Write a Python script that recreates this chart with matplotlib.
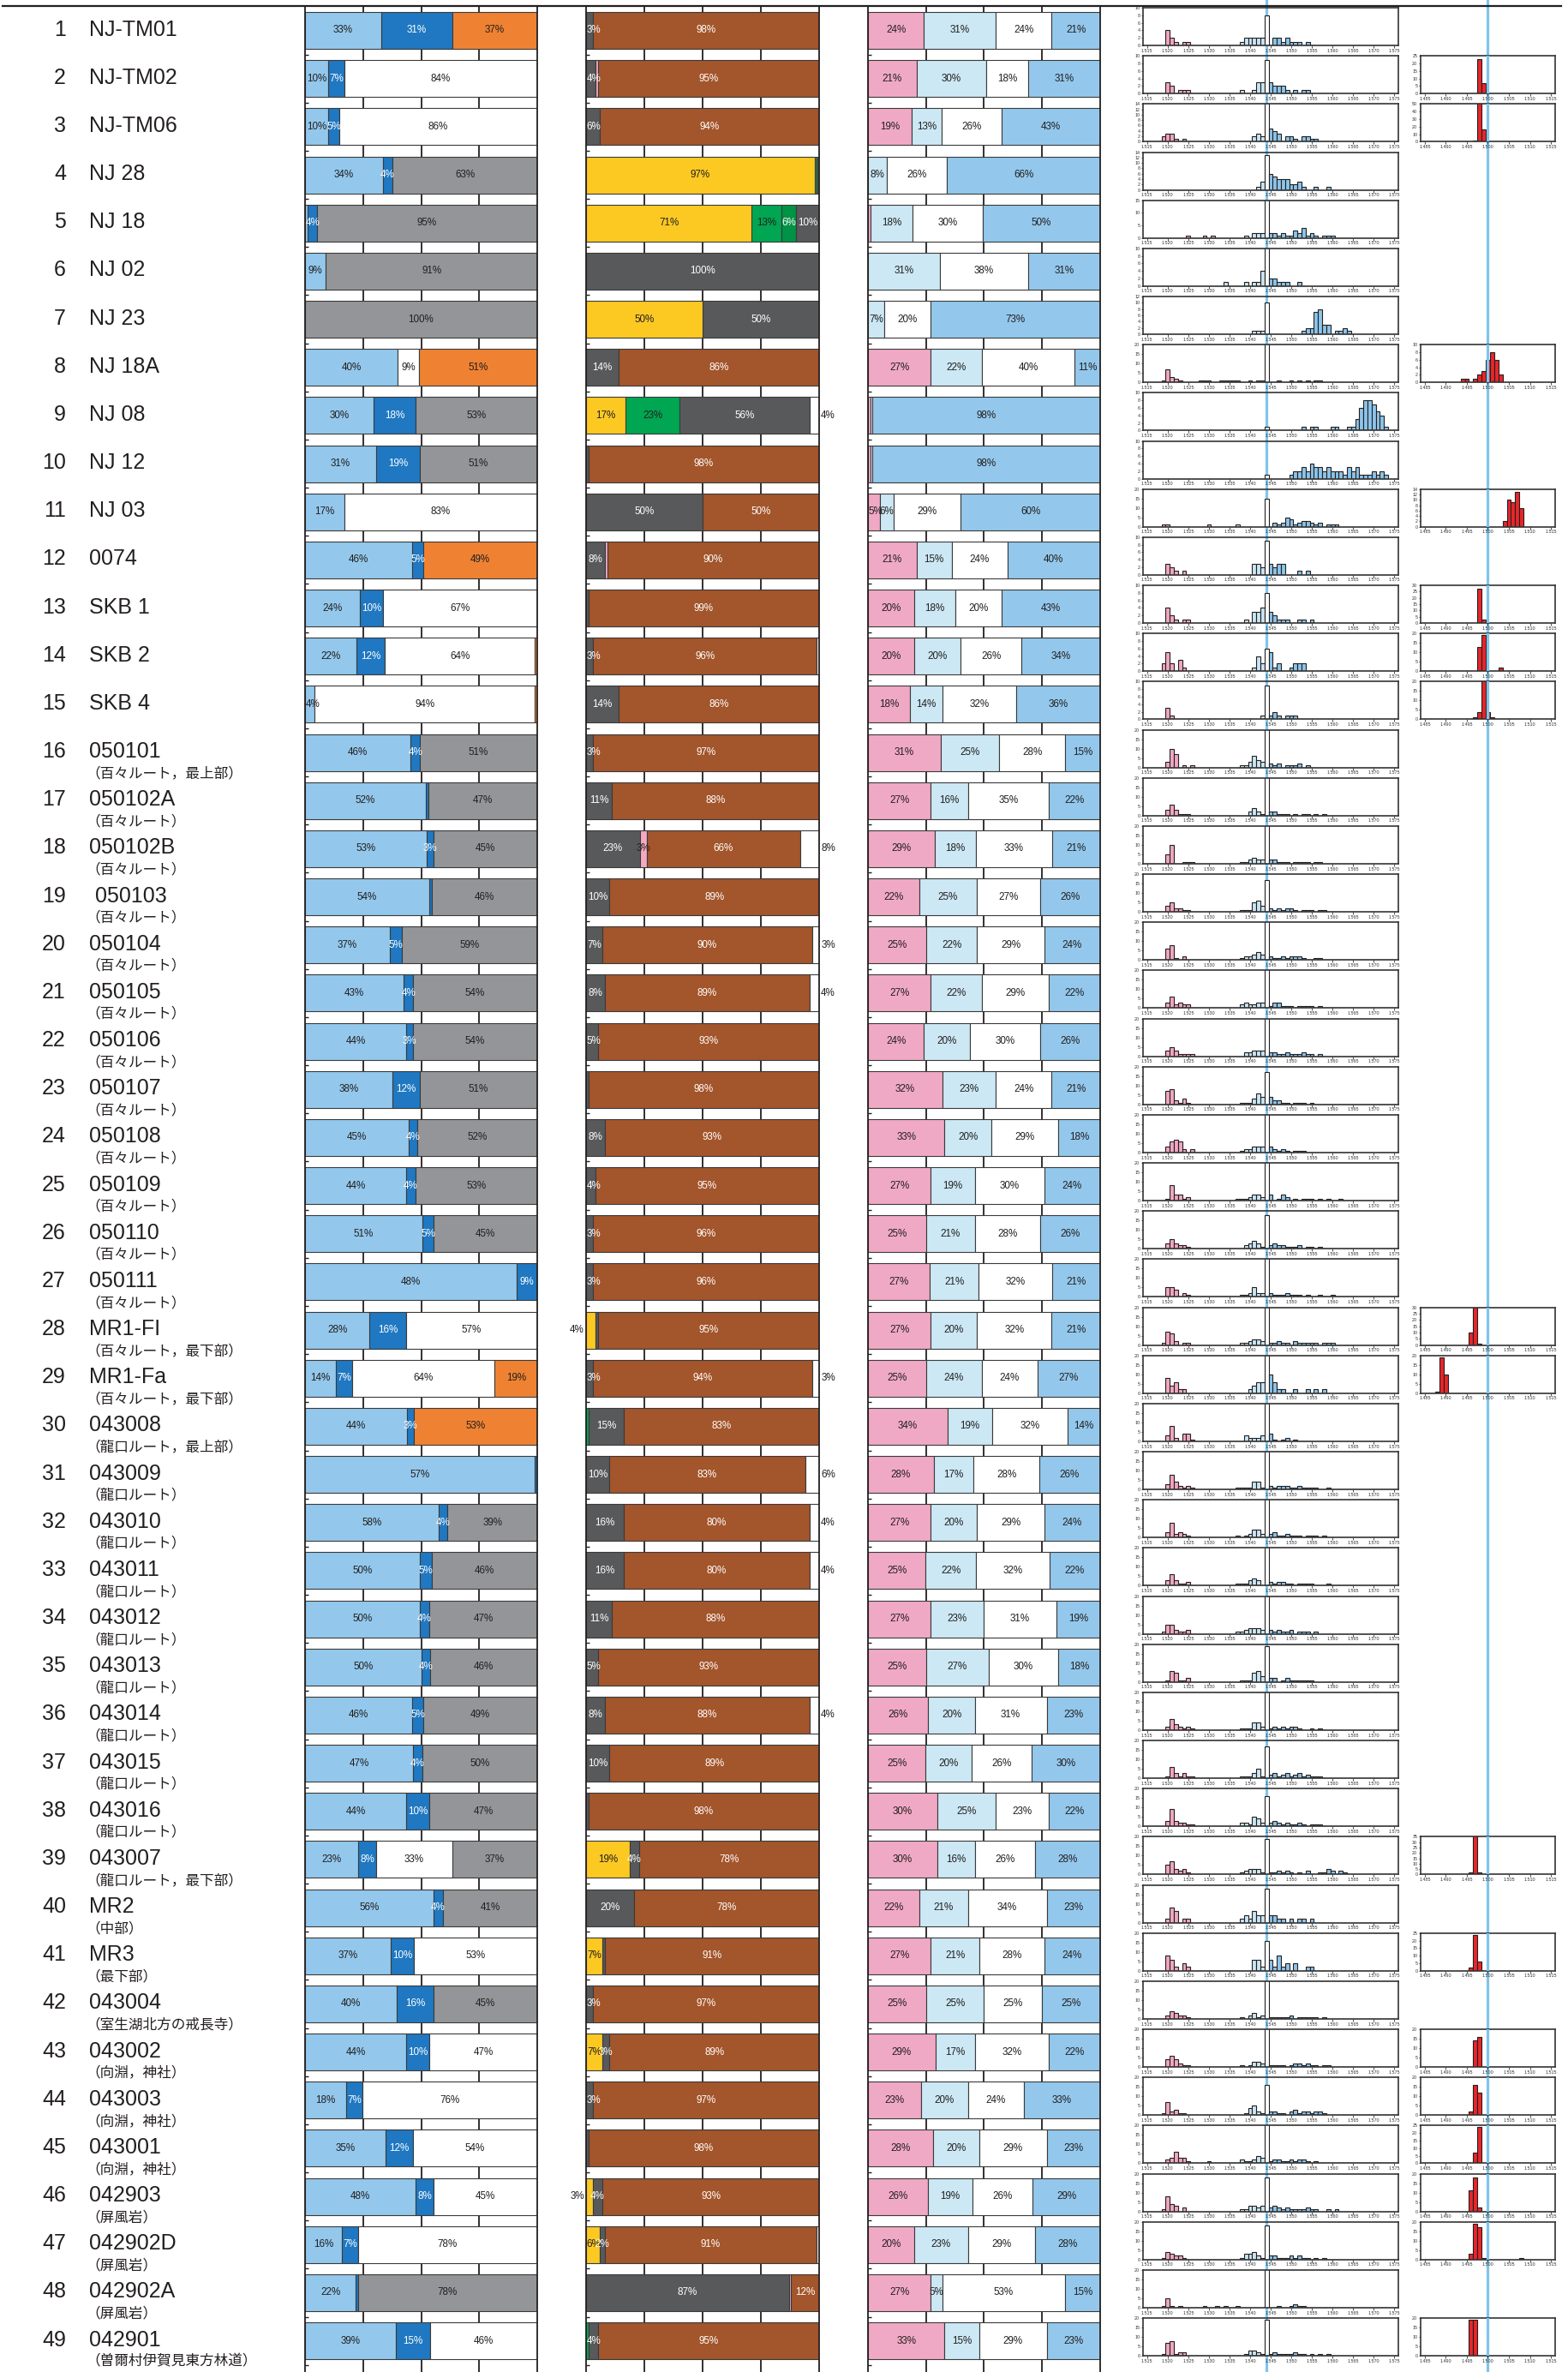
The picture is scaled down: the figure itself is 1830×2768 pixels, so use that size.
import matplotlib
matplotlib.use("Agg")
import matplotlib.pyplot as plt
from matplotlib.lines import Line2D
import numpy as np

plt.rcParams['font.family'] = ['Liberation Sans', 'Noto Sans CJK JP', 'DejaVu Sans']

# ---------------------------------------------------------------- data
SAMPLE_NO = list(range(1, 50))
SAMPLE_NAME = ['NJ-TM01', 'NJ-TM02', 'NJ-TM06', 'NJ 28', 'NJ 18', 'NJ 02', 'NJ 23', 'NJ 18A',
               'NJ 08', 'NJ 12', 'NJ 03', '0074', 'SKB 1', 'SKB 2', 'SKB 4',
               '050101', '050102A', '050102B', ' 050103', '050104', '050105', '050106',
               '050107', '050108', '050109', '050110', '050111', 'MR1-FI', 'MR1-Fa',
               '043008', '043009', '043010', '043011', '043012', '043013', '043014',
               '043015', '043016', '043007', 'MR2', 'MR3', '043004', '043002', '043003',
               '043001', '042903', '042902D', '042902A', '042901']
SAMPLE_NOTE = [''] * 15 + ['（百々ルート，最上部）'] + ['（百々ルート）'] * 11 + \
              ['（百々ルート，最下部）'] * 2 + ['（龍口ルート，最上部）'] + ['（龍口ルート）'] * 8 + \
              ['（龍口ルート，最下部）', '（中部）', '（最下部）', '（室生湖北方の戒長寺）'] + \
              ['（向淵，神社）'] * 3 + ['（屏風岩）'] * 3 + ['（曽爾村伊賀見東方林道）']

# panel 1 : light blue, blue, white, grey, orange  (%)
P1 = [[33, 31, 0, 0, 37], [10, 7, 84, 0, 0], [10, 5, 86, 0, 0], [34, 4, 0, 63, 0],
      [1, 4, 0, 95, 0], [9, 0, 0, 91, 0], [0, 0, 0, 100, 0], [40, 0, 9, 0, 51],
      [30, 18, 0, 53, 0], [31, 19, 0, 51, 0], [17, 0, 83, 0, 0], [46, 5, 0, 0, 49],
      [24, 10, 67, 0, 0], [22, 12, 64, 0, 1], [4, 0, 94, 0, 1], [46, 4, 0, 51, 0],
      [52, 1, 0, 47, 0], [53, 3, 0, 45, 0], [54, 1, 0, 46, 0], [37, 5, 0, 59, 0],
      [43, 4, 0, 54, 0], [44, 3, 0, 54, 0], [38, 12, 0, 51, 0], [45, 4, 0, 52, 0],
      [44, 4, 0, 53, 0], [51, 5, 0, 45, 0], [91, 9, 0, 0, 0], [28, 16, 57, 0, 0],
      [14, 7, 64, 0, 19], [44, 3, 0, 0, 53], [98, 1, 0, 0, 0], [58, 4, 0, 39, 0],
      [50, 5, 0, 46, 0], [50, 4, 0, 47, 0], [50, 4, 0, 46, 0], [46, 5, 0, 49, 0],
      [47, 4, 0, 50, 0], [44, 10, 0, 47, 0], [23, 8, 33, 37, 0], [56, 4, 0, 41, 0],
      [37, 10, 53, 0, 0], [40, 16, 0, 45, 0], [44, 10, 47, 0, 0], [18, 7, 76, 0, 0],
      [35, 12, 54, 0, 0], [48, 8, 45, 0, 0], [16, 7, 78, 0, 0], [22, 1, 0, 78, 0],
      [39, 15, 46, 0, 0]]
P1_LABEL_TEXT = {27: {0: '48%'}, 31: {0: '57%'}}

# panel 2 : yellow, green, dark green, dark grey, pink, brown, white (%)
P2 = [[0, 0, 0, 3, 0, 98, 0], [0, 0, 0, 4, 1, 95, 0], [0, 0, 0, 6, 0, 94, 0],
      [97, 1, 0, 1, 0, 0, 0], [71, 13, 6, 10, 0, 0, 0], [0, 0, 0, 100, 0, 0, 0],
      [50, 0, 0, 50, 0, 0, 0], [0, 0, 0, 14, 0, 86, 0], [17, 23, 0, 56, 0, 0, 4],
      [0, 0, 0, 1, 0, 98, 0], [0, 0, 0, 50, 0, 50, 0], [0, 0, 0, 8, 1, 90, 0],
      [0, 0, 0, 1, 0, 99, 0], [0, 0, 0, 3, 0, 96, 1], [0, 0, 0, 14, 0, 86, 0],
      [0, 0, 0, 3, 0, 97, 0], [0, 0, 0, 11, 0, 88, 0], [0, 0, 0, 23, 3, 66, 8],
      [0, 0, 0, 10, 0, 89, 0], [0, 0, 0, 7, 0, 90, 3], [0, 0, 0, 8, 0, 89, 4],
      [0, 0, 0, 5, 0, 93, 0], [0, 0, 0, 1, 0, 98, 0], [0, 0, 0, 8, 0, 93, 0],
      [0, 0, 0, 4, 0, 95, 0], [0, 0, 0, 3, 0, 96, 0], [0, 0, 0, 3, 0, 96, 0],
      [4, 0, 0, 1, 0, 95, 0], [0, 0, 0, 3, 0, 94, 3], [0, 1, 0, 15, 0, 83, 0],
      [0, 0, 0, 10, 0, 83, 6], [0, 0, 0, 16, 0, 80, 4], [0, 0, 0, 16, 0, 80, 4],
      [0, 0, 0, 11, 0, 88, 0], [0, 0, 0, 5, 0, 93, 0], [0, 0, 0, 8, 0, 88, 4],
      [0, 0, 0, 10, 0, 89, 0], [0, 0, 0, 1, 0, 98, 0], [19, 0, 0, 4, 0, 78, 0],
      [0, 0, 0, 20, 0, 78, 0], [7, 0, 0, 1, 0, 91, 0], [0, 0, 0, 3, 0, 97, 0],
      [7, 0, 0, 3, 0, 89, 0], [0, 0, 0, 3, 0, 97, 0], [0, 0, 0, 1, 0, 98, 0],
      [3, 0, 0, 4, 0, 93, 0], [6, 0, 0, 2, 0, 91, 1], [0, 0, 0, 87, 1, 12, 0],
      [0, 1, 0, 4, 0, 95, 0]]

# panel 3 : pink, pale blue, white, light blue (%)
P3 = [[24, 31, 24, 21], [21, 30, 18, 31], [19, 13, 26, 43], [0, 8, 26, 66], [1, 18, 30, 50],
      [0, 31, 38, 31], [0, 7, 20, 73], [27, 22, 40, 11], [1, 0, 1, 98], [1, 0, 1, 98],
      [5, 6, 29, 60], [21, 15, 24, 40], [20, 18, 20, 43], [20, 20, 26, 34], [18, 14, 32, 36],
      [31, 25, 28, 15], [27, 16, 35, 22], [29, 18, 33, 21], [22, 25, 27, 26], [25, 22, 29, 24],
      [27, 22, 29, 22], [24, 20, 30, 26], [32, 23, 24, 21], [33, 20, 29, 18], [27, 19, 30, 24],
      [25, 21, 28, 26], [27, 21, 32, 21], [27, 20, 32, 21], [25, 24, 24, 27], [34, 19, 32, 14],
      [28, 17, 28, 26], [27, 20, 29, 24], [25, 22, 32, 22], [27, 23, 31, 19], [25, 27, 30, 18],
      [26, 20, 31, 23], [25, 20, 26, 30], [30, 25, 23, 22], [30, 16, 26, 28], [22, 21, 34, 23],
      [27, 21, 28, 24], [25, 25, 25, 25], [29, 17, 32, 22], [23, 20, 24, 33], [28, 20, 29, 23],
      [26, 19, 26, 29], [20, 23, 29, 28], [27, 5, 53, 15], [33, 15, 29, 23]]

# histogram 1 : refractive index (x1000) -> count
HIST1 = [
    {1520: 4, 1521: 2, 1522: 1, 1524: 1, 1525: 1, 1538: 1, 1539: 2, 1540: 2, 1541: 2, 1542: 2, 1543: 2, 1544: 8,
     1546: 2, 1547: 2, 1548: 1, 1549: 2, 1550: 1, 1551: 1, 1552: 1, 1554: 1},
    {1520: 3, 1521: 2, 1523: 1, 1524: 1, 1525: 1, 1538: 1, 1541: 1, 1542: 3, 1543: 3, 1544: 9, 1545: 3, 1546: 2,
     1547: 2, 1548: 2, 1549: 1, 1551: 1, 1553: 1, 1554: 1},
    {1519: 2, 1520: 3, 1521: 3, 1522: 1, 1524: 1, 1541: 2, 1542: 3, 1543: 2, 1544: 16, 1545: 5, 1546: 4, 1547: 3,
     1549: 2, 1550: 2, 1551: 1, 1553: 2, 1554: 2, 1555: 1, 1556: 1},
    {1542: 1, 1543: 3, 1544: 13, 1545: 6, 1546: 5, 1547: 4, 1548: 4, 1549: 4, 1550: 2, 1551: 2, 1552: 3, 1553: 1,
     1556: 1, 1559: 1},
    {1525: 1, 1529: 1, 1531: 1, 1539: 1, 1541: 2, 1542: 2, 1543: 2, 1544: 17, 1545: 2, 1546: 2, 1547: 1, 1548: 2,
     1549: 1, 1550: 1, 1551: 3, 1552: 2, 1553: 4, 1554: 1, 1555: 2, 1556: 1, 1558: 1, 1559: 1, 1560: 1},
    {1534: 1, 1539: 1, 1541: 1, 1542: 1, 1543: 4, 1544: 11, 1545: 2, 1546: 2, 1547: 1, 1548: 1, 1549: 1, 1552: 1},
    {1541: 1, 1542: 1, 1543: 1, 1544: 10, 1553: 1, 1554: 2, 1555: 2, 1556: 7, 1557: 8, 1558: 3, 1559: 3, 1561: 1,
     1562: 1, 1563: 2, 1564: 1},
    {1519: 1, 1520: 7, 1521: 3, 1522: 2, 1523: 1, 1528: 1, 1529: 1, 1530: 1, 1533: 1, 1534: 1, 1535: 1, 1536: 1,
     1537: 1, 1540: 1, 1542: 1, 1543: 1, 1544: 22, 1547: 1, 1550: 1, 1552: 1, 1554: 1, 1556: 1, 1557: 1},
    {1544: 1, 1553: 1, 1555: 1, 1556: 1, 1560: 1, 1561: 1, 1564: 1, 1565: 1, 1566: 3, 1567: 6, 1568: 8, 1569: 8,
     1570: 7, 1571: 5, 1572: 4, 1573: 1},
    {1544: 1, 1550: 1, 1551: 2, 1552: 2, 1553: 3, 1554: 2, 1555: 4, 1556: 3, 1557: 3, 1558: 2, 1559: 3, 1560: 2,
     1561: 2, 1562: 2, 1563: 1, 1564: 3, 1565: 2, 1566: 3, 1567: 1, 1568: 1, 1569: 1, 1570: 2, 1571: 1, 1572: 2,
     1573: 1},
    {1519: 1, 1520: 1, 1530: 1, 1537: 1, 1544: 15, 1546: 2, 1547: 1, 1548: 2, 1549: 5, 1550: 4, 1551: 1, 1552: 2,
     1553: 3, 1554: 3, 1555: 2, 1556: 1, 1557: 2, 1559: 1, 1560: 1, 1561: 1},
    {1520: 3, 1521: 2, 1522: 1, 1524: 1, 1541: 3, 1542: 3, 1543: 2, 1544: 9, 1545: 3, 1546: 2, 1547: 3, 1548: 3,
     1552: 1, 1554: 1},
    {1520: 4, 1521: 2, 1522: 1, 1524: 1, 1525: 1, 1539: 1, 1541: 3, 1542: 3, 1543: 4, 1544: 8, 1545: 3, 1546: 2,
     1547: 1, 1548: 1, 1549: 1, 1552: 1, 1553: 1, 1555: 1},
    {1519: 2, 1520: 5, 1521: 2, 1523: 3, 1524: 1, 1541: 1, 1542: 4, 1543: 2, 1544: 6, 1545: 5, 1546: 1, 1547: 2,
     1550: 1, 1551: 2, 1552: 2, 1553: 2},
    {1520: 3, 1521: 1, 1543: 1, 1544: 9, 1545: 1, 1546: 2, 1547: 1, 1549: 1, 1550: 1, 1551: 1},
    {1520: 3, 1521: 10, 1522: 7, 1524: 1, 1526: 1, 1538: 1, 1539: 1, 1540: 3, 1541: 6, 1542: 4, 1543: 3, 1544: 22,
     1545: 2, 1546: 1, 1547: 2, 1549: 1, 1550: 1, 1551: 1, 1552: 2, 1554: 1},
    {1520: 3, 1521: 6, 1522: 3, 1523: 1, 1524: 1, 1525: 1, 1540: 2, 1541: 4, 1542: 2, 1543: 1, 1544: 22, 1545: 2,
     1546: 2, 1547: 1, 1548: 1, 1549: 1, 1551: 1, 1553: 1, 1554: 1, 1556: 1, 1558: 1},
    {1520: 5, 1521: 10, 1524: 1, 1525: 1, 1526: 1, 1538: 1, 1539: 1, 1540: 2, 1541: 3, 1542: 2, 1543: 2, 1544: 22,
     1545: 2, 1546: 2, 1547: 1, 1548: 1, 1549: 1, 1551: 1, 1552: 1, 1553: 1, 1554: 1, 1556: 1, 1557: 1},
    {1520: 3, 1521: 5, 1522: 2, 1523: 2, 1524: 1, 1525: 1, 1538: 1, 1539: 1, 1540: 1, 1541: 5, 1542: 6, 1543: 3,
     1544: 17, 1545: 2, 1546: 1, 1547: 2, 1548: 1, 1549: 2, 1550: 2, 1551: 1, 1553: 1, 1554: 1, 1555: 1, 1557: 1,
     1558: 1},
    {1520: 6, 1521: 8, 1522: 1, 1524: 2, 1538: 1, 1539: 2, 1540: 2, 1541: 3, 1542: 4, 1543: 3, 1544: 22, 1545: 2,
     1546: 1, 1547: 1, 1548: 2, 1549: 1, 1550: 2, 1551: 2, 1552: 2, 1553: 1, 1556: 1, 1557: 1},
    {1520: 3, 1521: 6, 1522: 2, 1523: 3, 1524: 2, 1525: 2, 1538: 2, 1539: 3, 1540: 2, 1541: 2, 1542: 3, 1543: 3,
     1544: 22, 1545: 1, 1546: 3, 1547: 3, 1548: 1, 1549: 1, 1550: 1, 1552: 1, 1553: 1, 1554: 1, 1555: 1, 1557: 1},
    {1520: 3, 1521: 5, 1522: 3, 1523: 1, 1524: 1, 1525: 1, 1526: 1, 1539: 2, 1540: 2, 1541: 3, 1542: 3, 1543: 3,
     1544: 22, 1545: 2, 1546: 2, 1547: 1, 1548: 1, 1549: 2, 1550: 1, 1551: 1, 1552: 1, 1553: 2, 1554: 1, 1555: 1,
     1557: 1},
    {1520: 7, 1521: 8, 1522: 2, 1523: 1, 1524: 3, 1525: 1, 1538: 1, 1539: 1, 1540: 1, 1541: 3, 1542: 6, 1543: 4,
     1544: 17, 1545: 4, 1546: 2, 1547: 2, 1548: 1, 1549: 1, 1551: 1, 1552: 1, 1553: 1, 1555: 1},
    {1520: 3, 1521: 6, 1522: 7, 1523: 6, 1524: 2, 1526: 2, 1538: 1, 1539: 2, 1540: 2, 1541: 3, 1542: 3, 1543: 3,
     1544: 22, 1545: 3, 1546: 2, 1547: 1, 1548: 2, 1549: 1, 1551: 1, 1552: 1, 1553: 1},
    {1520: 1, 1521: 8, 1522: 3, 1523: 3, 1524: 1, 1525: 2, 1537: 1, 1538: 1, 1539: 1, 1540: 2, 1541: 3, 1542: 3,
     1543: 2, 1544: 22, 1545: 3, 1547: 1, 1548: 3, 1549: 2, 1551: 1, 1553: 1, 1554: 1, 1555: 1, 1557: 1, 1559: 1,
     1562: 1},
    {1520: 3, 1521: 5, 1522: 3, 1523: 2, 1524: 2, 1525: 1, 1539: 2, 1540: 3, 1541: 4, 1542: 3, 1543: 1, 1544: 18,
     1545: 2, 1546: 3, 1547: 2, 1548: 2, 1549: 1, 1550: 1, 1551: 1, 1552: 2, 1554: 1, 1555: 1, 1557: 1},
    {1520: 5, 1521: 5, 1522: 4, 1524: 2, 1525: 1, 1538: 1, 1539: 1, 1540: 2, 1541: 5, 1542: 2, 1543: 2, 1544: 22,
     1545: 2, 1546: 1, 1547: 1, 1548: 1, 1549: 2, 1550: 1, 1551: 1, 1552: 1, 1554: 1, 1557: 1, 1560: 1},
    {1519: 1, 1520: 7, 1521: 6, 1522: 2, 1524: 1, 1525: 1, 1538: 1, 1539: 1, 1540: 2, 1541: 3, 1542: 3, 1543: 2,
     1544: 22, 1545: 1, 1546: 1, 1547: 2, 1548: 1, 1549: 1, 1551: 2, 1552: 1, 1553: 1, 1554: 1, 1555: 1, 1556: 1,
     1558: 1, 1559: 1, 1560: 1},
    {1520: 8, 1521: 4, 1522: 6, 1523: 2, 1524: 2, 1540: 2, 1541: 4, 1542: 6, 1543: 6, 1544: 22, 1545: 10, 1546: 6,
     1547: 2, 1548: 2, 1551: 2, 1554: 2, 1556: 2, 1558: 2},
    {1520: 3, 1521: 8, 1522: 2, 1524: 4, 1525: 4, 1526: 1, 1539: 3, 1540: 2, 1541: 2, 1542: 2, 1543: 3, 1544: 22,
     1545: 4, 1546: 1, 1548: 1, 1549: 2, 1551: 1},
    {1520: 3, 1521: 8, 1522: 4, 1523: 2, 1524: 1, 1525: 2, 1526: 1, 1537: 1, 1538: 1, 1539: 1, 1540: 1, 1541: 4,
     1542: 4, 1543: 1, 1544: 22, 1545: 2, 1546: 1, 1547: 2, 1548: 2, 1549: 2, 1550: 1, 1551: 1, 1552: 2, 1553: 1,
     1554: 1, 1555: 1, 1556: 1, 1559: 1},
    {1520: 3, 1521: 8, 1522: 2, 1523: 3, 1524: 2, 1525: 1, 1537: 1, 1539: 1, 1540: 2, 1541: 4, 1542: 4, 1543: 2,
     1544: 22, 1545: 2, 1546: 3, 1547: 1, 1548: 1, 1549: 2, 1550: 1, 1551: 1, 1552: 1, 1554: 1, 1555: 1, 1556: 1,
     1558: 1},
    {1520: 3, 1521: 6, 1522: 3, 1523: 1, 1524: 1, 1525: 2, 1537: 1, 1538: 1, 1539: 1, 1540: 3, 1541: 4, 1542: 3,
     1544: 22, 1545: 2, 1546: 1, 1547: 2, 1548: 2, 1549: 1, 1550: 1, 1552: 1, 1553: 1, 1554: 1, 1555: 1, 1559: 1},
    {1519: 1, 1520: 5, 1521: 5, 1522: 2, 1523: 1, 1524: 1, 1525: 2, 1537: 1, 1538: 1, 1539: 2, 1540: 3, 1541: 3,
     1542: 3, 1543: 2, 1544: 22, 1545: 2, 1546: 1, 1547: 2, 1548: 1, 1549: 1, 1550: 2, 1552: 1, 1553: 1, 1554: 1,
     1556: 1},
    {1520: 1, 1521: 6, 1522: 5, 1523: 1, 1524: 1, 1525: 2, 1538: 1, 1539: 1, 1540: 1, 1541: 5, 1542: 6, 1543: 3,
     1544: 19, 1545: 2, 1546: 2, 1548: 1, 1549: 2, 1550: 1, 1551: 1, 1552: 1, 1553: 1, 1554: 1, 1555: 1},
    {1520: 2, 1521: 6, 1522: 3, 1523: 2, 1524: 1, 1525: 2, 1526: 1, 1538: 1, 1539: 1, 1540: 1, 1541: 4, 1542: 4,
     1543: 2, 1544: 22, 1545: 1, 1546: 2, 1547: 1, 1548: 2, 1549: 1, 1550: 2, 1551: 2, 1552: 1, 1555: 1, 1557: 1},
    {1520: 1, 1521: 6, 1522: 3, 1523: 1, 1524: 3, 1525: 1, 1526: 1, 1538: 1, 1539: 1, 1540: 1, 1541: 3, 1542: 5,
     1543: 1, 1544: 17, 1545: 2, 1546: 3, 1547: 1, 1548: 2, 1549: 3, 1550: 1, 1551: 2, 1552: 3, 1553: 1, 1554: 2,
     1555: 1, 1556: 1, 1557: 1},
    {1520: 3, 1521: 9, 1522: 3, 1523: 2, 1524: 2, 1525: 1, 1526: 1, 1538: 2, 1539: 2, 1540: 1, 1541: 5, 1542: 4,
     1543: 2, 1544: 16, 1545: 2, 1546: 3, 1547: 2, 1548: 1, 1549: 2, 1550: 1, 1551: 1, 1552: 2, 1553: 1, 1555: 1,
     1556: 1, 1557: 1},
    {1520: 5, 1521: 7, 1522: 3, 1523: 2, 1524: 3, 1525: 1, 1538: 1, 1539: 2, 1540: 3, 1541: 3, 1542: 3, 1543: 1,
     1544: 19, 1545: 1, 1546: 1, 1547: 2, 1548: 1, 1549: 2, 1550: 1, 1552: 1, 1554: 2, 1557: 1, 1558: 1, 1559: 3,
     1560: 2, 1562: 2, 1563: 1},
    {1520: 2, 1521: 8, 1522: 6, 1524: 2, 1525: 2, 1538: 2, 1539: 4, 1540: 2, 1541: 6, 1542: 4, 1543: 4, 1544: 18,
     1545: 4, 1546: 4, 1547: 2, 1548: 2, 1550: 2, 1552: 2, 1553: 2, 1555: 2},
    {1520: 8, 1521: 6, 1522: 2, 1524: 4, 1525: 2, 1541: 6, 1542: 6, 1543: 2, 1544: 16, 1545: 6, 1546: 2, 1547: 8,
     1548: 2, 1549: 4, 1551: 4, 1554: 2, 1555: 2},
    {1520: 2, 1521: 4, 1522: 3, 1523: 2, 1524: 2, 1525: 1, 1538: 1, 1540: 2, 1541: 3, 1542: 1, 1543: 2, 1544: 22,
     1545: 1, 1546: 1, 1547: 1, 1548: 1, 1549: 1, 1550: 2, 1552: 1, 1553: 1, 1554: 1, 1555: 1, 1556: 1, 1558: 1},
    {1520: 4, 1521: 6, 1522: 4, 1523: 2, 1524: 1, 1525: 1, 1538: 1, 1540: 1, 1541: 3, 1542: 3, 1543: 2, 1544: 22,
     1545: 1, 1546: 1, 1547: 1, 1548: 1, 1550: 1, 1551: 2, 1552: 2, 1553: 1, 1554: 2, 1555: 1, 1556: 1, 1558: 1,
     1559: 1},
    {1519: 1, 1520: 7, 1521: 2, 1522: 3, 1523: 1, 1524: 1, 1539: 1, 1540: 4, 1541: 5, 1542: 2, 1543: 1, 1544: 16,
     1545: 2, 1546: 2, 1547: 1, 1548: 1, 1550: 2, 1551: 3, 1552: 1, 1553: 2, 1554: 2, 1555: 1, 1556: 2, 1557: 2,
     1558: 1},
    {1520: 2, 1521: 3, 1522: 6, 1523: 3, 1524: 3, 1525: 1, 1530: 1, 1538: 2, 1539: 1, 1540: 1, 1541: 2, 1542: 4,
     1543: 3, 1544: 22, 1545: 1, 1546: 2, 1547: 2, 1548: 1, 1549: 1, 1550: 2, 1551: 1, 1552: 2, 1553: 2, 1554: 1,
     1556: 1},
    {1519: 1, 1520: 8, 1521: 4, 1522: 3, 1524: 2, 1538: 1, 1539: 1, 1540: 3, 1541: 3, 1542: 2, 1543: 3, 1544: 18,
     1545: 2, 1546: 3, 1547: 2, 1548: 1, 1549: 2, 1550: 1, 1551: 1, 1552: 1, 1553: 1, 1554: 2, 1555: 1, 1556: 1,
     1559: 1, 1561: 1},
    {1519: 1, 1520: 4, 1521: 3, 1522: 2, 1523: 2, 1524: 1, 1538: 1, 1539: 3, 1540: 3, 1541: 4, 1542: 2, 1543: 1,
     1544: 18, 1545: 2, 1546: 2, 1547: 1, 1548: 1, 1549: 1, 1550: 2, 1551: 1, 1552: 2, 1553: 1, 1554: 1, 1556: 1,
     1558: 1},
    {1519: 1, 1520: 5, 1521: 1, 1523: 1, 1529: 1, 1532: 1, 1534: 1, 1537: 1, 1544: 22, 1547: 1, 1550: 1, 1551: 2,
     1552: 1, 1553: 1},
    {1519: 1, 1520: 7, 1521: 8, 1522: 1, 1523: 2, 1524: 2, 1539: 1, 1540: 3, 1541: 3, 1542: 2, 1543: 1, 1544: 19,
     1545: 1, 1546: 2, 1547: 1, 1548: 1, 1549: 1, 1550: 1, 1551: 2, 1552: 1, 1553: 1, 1555: 1, 1557: 1, 1559: 1},
]
HIST1_YMAX = [10, 10, 14, 14, 15, 10, 12, 20, 10, 10, 20, 10, 10, 10, 10] + [20] * 34

# histogram 2 (sample no. -> refractive index x1000 -> count)
HIST2 = {
    2: {1498: 23, 1499: 7},
    3: {1497: 1, 1498: 52, 1499: 16},
    8: {1494: 1, 1495: 1, 1497: 1, 1498: 2, 1499: 3, 1500: 6, 1501: 8, 1502: 6, 1503: 2},
    11: {1504: 2, 1505: 10, 1506: 9, 1507: 13, 1508: 7},
    13: {1498: 27, 1499: 3},
    14: {1498: 13, 1499: 19, 1503: 2},
    15: {1497: 1, 1498: 4, 1499: 22, 1500: 4, 1501: 1},
    28: {1496: 10, 1497: 32, 1498: 1},
    29: {1488: 1, 1489: 19, 1490: 10},
    39: {1496: 2, 1497: 37, 1498: 2},
    41: {1496: 2, 1497: 24, 1498: 6},
    43: {1497: 14, 1498: 16},
    44: {1496: 2, 1497: 16, 1498: 12},
    45: {1497: 7, 1498: 24},
    46: {1496: 11, 1497: 18, 1498: 2},
    47: {1496: 3, 1497: 19, 1498: 17, 1499: 1, 1508: 1},
    49: {1496: 19, 1497: 19},
}
HIST2_YMAX = {2: 25, 3: 50, 8: 10, 11: 14, 13: 30, 14: 20, 15: 20, 28: 30, 29: 20, 39: 35,
              41: 25, 43: 20, 44: 20, 45: 25, 46: 20, 47: 20, 49: 20}
REF_LINE_1 = 1.544
REF_LINE_2 = 1.500

# ---------------------------------------------------------------- style
INK = '#231F20'
EDGE = '#3A3A3A'
C_LB, C_BLUE, C_WHITE, C_GREY, C_ORANGE = '#93C8EC', '#1F78C1', '#FFFFFF', '#939598', '#EE8232'
C_YEL, C_GRN, C_DGRN, C_DGREY, C_PINK2, C_BROWN = '#FCC923', '#00A651', '#009245', '#58595B', '#F4A9C2', '#A3552B'
C_PINK, C_PALE = '#F0A9C4', '#CCE8F4'
H_PINK, H_PALE, H_BLUE, H_RED = '#F2A7C2', '#C9E6F4', '#8CC5EA', '#E8262A'
REF_BLUE = '#7FC4EC'

P1_COL = [C_LB, C_BLUE, C_WHITE, C_GREY, C_ORANGE]
P1_TXT = [INK, 'white', INK, INK, INK]
P2_COL = [C_YEL, C_GRN, C_DGRN, C_DGREY, C_PINK2, C_BROWN, C_WHITE]
P2_TXT = [INK, INK, 'white', 'white', INK, 'white', INK]
P3_COL = [C_PINK, C_PALE, C_WHITE, C_LB]
P3_TXT = [INK, INK, INK, INK]

W, H = 1831, 2768
N = len(SAMPLE_NAME)
PITCH = 56.17
TOP_Y = 7
ROW0_CENTER = 35.5
BAR_H = 43
R_TOP = (TOP_Y - ROW0_CENTER) / PITCH
R_BOT = (H - ROW0_CENTER) / PITCH

fig = plt.figure(figsize=(W / 100, H / 100), dpi=100)
fig.patch.set_facecolor('white')

PCT_FS = 8.4


def bar_panel(x0, x1, data, cols, txts, overrides=None, outside_right=None, outside_left=None):
    ax = fig.add_axes([x0 / W, 0, (x1 - x0) / W, (H - TOP_Y) / H])
    ax.set_xlim(0, 100)
    ax.set_ylim(R_BOT, R_TOP)
    ax.vlines([25, 50, 75], R_BOT, R_TOP, colors=INK, lw=1.3, zorder=0.5)
    for s in ['top', 'bottom']:
        ax.spines[s].set_visible(False)
    for s in ['left', 'right']:
        ax.spines[s].set_linewidth(1.3)
        ax.spines[s].set_color(INK)
    ax.set_xticks([])
    ax.set_yticks(np.arange(N) + 0.5)
    ax.tick_params(axis='y', direction='in', length=3, width=1, color=INK, labelleft=False)
    px_per_unit = (x1 - x0) / 100.0
    em = PCT_FS * 100 / 72.0
    for r, vals in enumerate(data):
        tot = float(sum(vals))
        left = 0.0
        for c, v in enumerate(vals):
            if v <= 0:
                continue
            w = v / tot * 100.0
            ax.barh(r, w, left=left, height=BAR_H / PITCH, color=cols[c], edgecolor=EDGE,
                    linewidth=0.8, zorder=2)
            lab = f'{v}%'
            if overrides and (r + 1) in overrides and c in overrides[r + 1]:
                lab = overrides[r + 1][c]
            if v >= 2:
                tw = (0.556 * (len(lab) - 1) + 0.889) * em / px_per_unit
                cx = left + w / 2
                ha = 'center'
                color = txts[c]
                if outside_right is not None and c == outside_right:
                    cx, ha, color = 100.8, 'left', INK
                elif outside_left is not None and c == outside_left and v < 5:
                    cx, ha, color = -0.8, 'right', INK
                elif cx - tw / 2 < 0:
                    cx, ha = 0.3, 'left'
                elif cx + tw / 2 > 100:
                    cx, ha = 99.7, 'right'
                ax.text(cx, r, lab, ha=ha, va='center', fontsize=PCT_FS, color=color,
                        zorder=3, clip_on=False)
            left += w
    return ax


bar_panel(356, 627, P1, P1_COL, P1_TXT, overrides=P1_LABEL_TEXT)
bar_panel(684, 956, P2, P2_COL, P2_TXT, outside_right=6, outside_left=0)
bar_panel(1013, 1284, P3, P3_COL, P3_TXT)


def hist_color(n):
    if n == 1544:
        return C_WHITE
    if n < 1532:
        return H_PINK
    if n < 1544:
        return H_PALE
    return H_BLUE


def y_step(ymax):
    if ymax <= 14:
        return 2
    if ymax <= 35:
        return 5
    return 10


def style_hist(ax, xlim, ticks, ymax):
    ax.set_xlim(*xlim)
    ax.set_ylim(0, ymax)
    ax.set_xticks(ticks)
    ax.set_xticklabels([f'{t:.3f}' for t in ticks])
    ax.set_yticks(np.arange(0, ymax + 0.1, y_step(ymax)))
    ax.tick_params(labelsize=3.9, length=1.8, width=0.6, pad=0.8, colors='#333333')
    for s in ax.spines.values():
        s.set_linewidth(1.2)
        s.set_color('#333333')


H1_X0, H1_X1 = 1334, 1632
H2_X0, H2_X1 = 1658, 1815
H_TOP0, H_H = 9, 44
ticks1 = np.round(np.arange(1.515, 1.5751, 0.005), 3)
ticks2 = np.round(np.arange(1.485, 1.5151, 0.005), 3)

line1_x = line2_x = None
for r in range(N):
    ytop = H_TOP0 + r * PITCH
    ax = fig.add_axes([H1_X0 / W, 1 - (ytop + H_H) / H, (H1_X1 - H1_X0) / W, H_H / H])
    d = HIST1[r]
    keys = sorted(d)
    ax.bar(np.array(keys) / 1000.0, [d[k] for k in keys], width=0.001,
           color=[hist_color(k) for k in keys], edgecolor=INK, linewidth=0.8, zorder=2)
    ax.axvline(REF_LINE_1, color=REF_BLUE, lw=2.3, zorder=1)
    style_hist(ax, (1.514, 1.576), ticks1, HIST1_YMAX[r])
    if line1_x is None:
        line1_x = fig.transFigure.inverted().transform(ax.transData.transform((REF_LINE_1, 0)))[0]

    no = r + 1
    if no in HIST2:
        ax2 = fig.add_axes([H2_X0 / W, 1 - (ytop + H_H) / H, (H2_X1 - H2_X0) / W, H_H / H])
        d2 = HIST2[no]
        k2 = sorted(d2)
        ax2.bar(np.array(k2) / 1000.0, [d2[k] for k in k2], width=0.001, color=H_RED,
                edgecolor=INK, linewidth=0.8, zorder=2)
        ax2.axvline(REF_LINE_2, color=REF_BLUE, lw=2.3, zorder=3)
        style_hist(ax2, (1.484, 1.516), ticks2, HIST2_YMAX[no])
        if line2_x is None:
            line2_x = fig.transFigure.inverted().transform(ax2.transData.transform((REF_LINE_2, 0)))[0]

for lx in (line1_x, line2_x):
    fig.add_artist(Line2D([lx, lx], [0, 1], transform=fig.transFigure, color=REF_BLUE,
                          lw=2.3, zorder=-1))

# top rule
fig.add_artist(Line2D([3 / W, 1822 / W], [1 - TOP_Y / H] * 2, transform=fig.transFigure,
                      color=INK, lw=1.6, zorder=5))

# row labels
for r in range(N):
    cy = ROW0_CENTER + r * PITCH
    fig.text(77 / W, 1 - (cy + 6) / H, str(SAMPLE_NO[r]), ha='right', va='baseline',
             fontsize=18, color=INK)
    fig.text(104 / W, 1 - (cy + 6) / H, SAMPLE_NAME[r], ha='left', va='baseline',
             fontsize=18, color=INK)
    if SAMPLE_NOTE[r]:
        fig.text(100 / W, 1 - (cy + 29) / H, SAMPLE_NOTE[r], ha='left', va='baseline',
                 fontsize=12, color=INK, family=['Noto Sans CJK JP', 'DejaVu Sans'])

fig.savefig('out.png', dpi=100, facecolor='white')
